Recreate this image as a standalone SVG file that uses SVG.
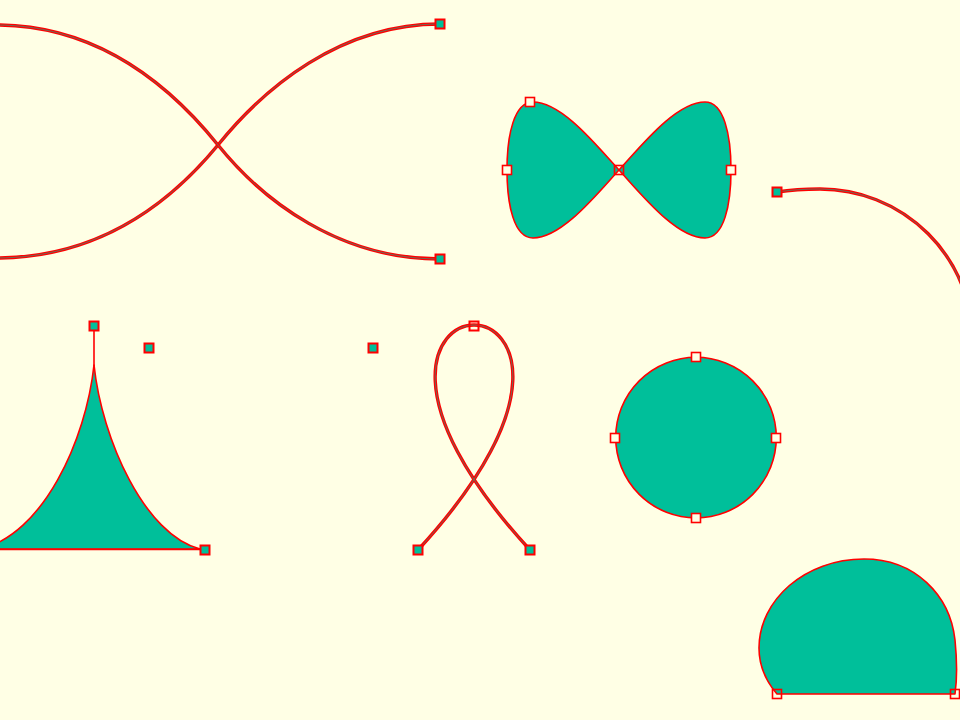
<svg xmlns="http://www.w3.org/2000/svg" width="960" height="720" viewBox="0 0 960 720">
<style>
.bg{fill:#FFFFE5}
.shape{fill:#00BF9A;stroke:#FF0000;stroke-width:1.6;stroke-linejoin:round}
.wire{fill:none;stroke:#FF0000;stroke-width:3.4;stroke-linecap:butt}
.core{fill:none;stroke:#00BF9A;stroke-width:0.7;stroke-opacity:0.8}
.line{fill:none;stroke:#FF0000;stroke-width:1.6}
.mk{fill:#00BF9A;stroke:#FF0000;stroke-width:2}
.mh{fill:none;stroke:#FF0000;stroke-width:1.6}
</style>
<defs>
<rect id="m" x="-4.5" y="-4.5" width="9" height="9"/>
</defs>
<rect class="bg" x="0" y="0" width="960" height="720"/>

<g id="cross-curves">
<path id="cB" class="wire" d="M440,24 C340,24 264,88 218,145 C171,202 100,258 -4,258"/>
<path class="core" d="M440,24 C340,24 264,88 218,145 C171,202 100,258 -4,258"/>
<path id="cA" class="wire" d="M-4,25 C100,25 172,88 218,145 C264,202 340,259 440,259"/>
<path class="core" d="M-4,25 C100,25 172,88 218,145 C264,202 340,259 440,259"/>
<use href="#m" class="mk" x="440" y="24"/>
<use href="#m" class="mk" x="440" y="259"/>
</g>

<g id="bowtie">
<path id="lobeL" class="shape" d="M619,170 C597,146 562,102 533,102 C514,102 507,135 507,170 C507,205 514,238 533,238 C562,238 597,194 619,170 Z"/>
<path id="lobeR" class="shape" transform="translate(1238,0) scale(-1,1)" d="M619,170 C597,146 562,102 533,102 C514,102 507,135 507,170 C507,205 514,238 533,238 C562,238 597,194 619,170 Z"/>
<use href="#m" class="mh" x="530" y="102" style="fill:#FFFFE5"/>
<use href="#m" class="mh" x="507" y="170" style="fill:#FFFFE5"/>
<use href="#m" class="mh" x="619" y="170"/>
<use href="#m" class="mh" x="731" y="170" style="fill:#FFFFE5"/>
</g>

<g id="arc-right">
<path class="wire" d="M777,192 C790,190 805,189 820,189 A153,153 0 0 1 973,342"/>
<path class="core" d="M777,192 C790,190 805,189 820,189 A153,153 0 0 1 973,342"/>
<use href="#m" class="mk" x="777" y="192"/>
</g>

<g id="cusp">
<path class="shape" d="M94,365 C102,440 145,535 200,549 L-20,549 C43,535 86,440 94,365 Z"/>
<path class="line" d="M94,326 L94,366"/>
<path class="line" d="M-5,549.5 L205,549.5"/>
<use href="#m" class="mk" x="94" y="326"/>
<use href="#m" class="mk" x="205" y="550"/>
<use href="#m" class="mk" x="149" y="348"/>
<use href="#m" class="mk" x="373" y="348"/>
</g>

<g id="ribbon">
<path class="wire" d="M418,550 C556,400 514,325 474,325 C434,325 392,400 530,550"/>
<path class="core" d="M418,550 C556,400 514,325 474,325 C434,325 392,400 530,550"/>
<use href="#m" class="mh" x="474" y="326" style="stroke-width:2"/>
<use href="#m" class="mk" x="418" y="550"/>
<use href="#m" class="mk" x="530" y="550"/>
</g>

<g id="circle">
<circle class="shape" cx="696" cy="437.6" r="80.3"/>
<use href="#m" class="mh" x="696" y="357" style="fill:#FFFFE5"/>
<use href="#m" class="mh" x="615" y="438" style="fill:#FFFFE5"/>
<use href="#m" class="mh" x="776" y="438" style="fill:#FFFFE5"/>
<use href="#m" class="mh" x="696" y="518" style="fill:#FFFFE5"/>
</g>

<g id="dome">
<path class="shape" d="M777,694 C765,680 759,665 759,648 C759,600 805,559 864,559 C915,559 950,595 955,640 C957,660 957,680 955,694 Z"/>
<use href="#m" class="mh" x="777" y="694"/>
<use href="#m" class="mh" x="955" y="694"/>
</g>
</svg>
